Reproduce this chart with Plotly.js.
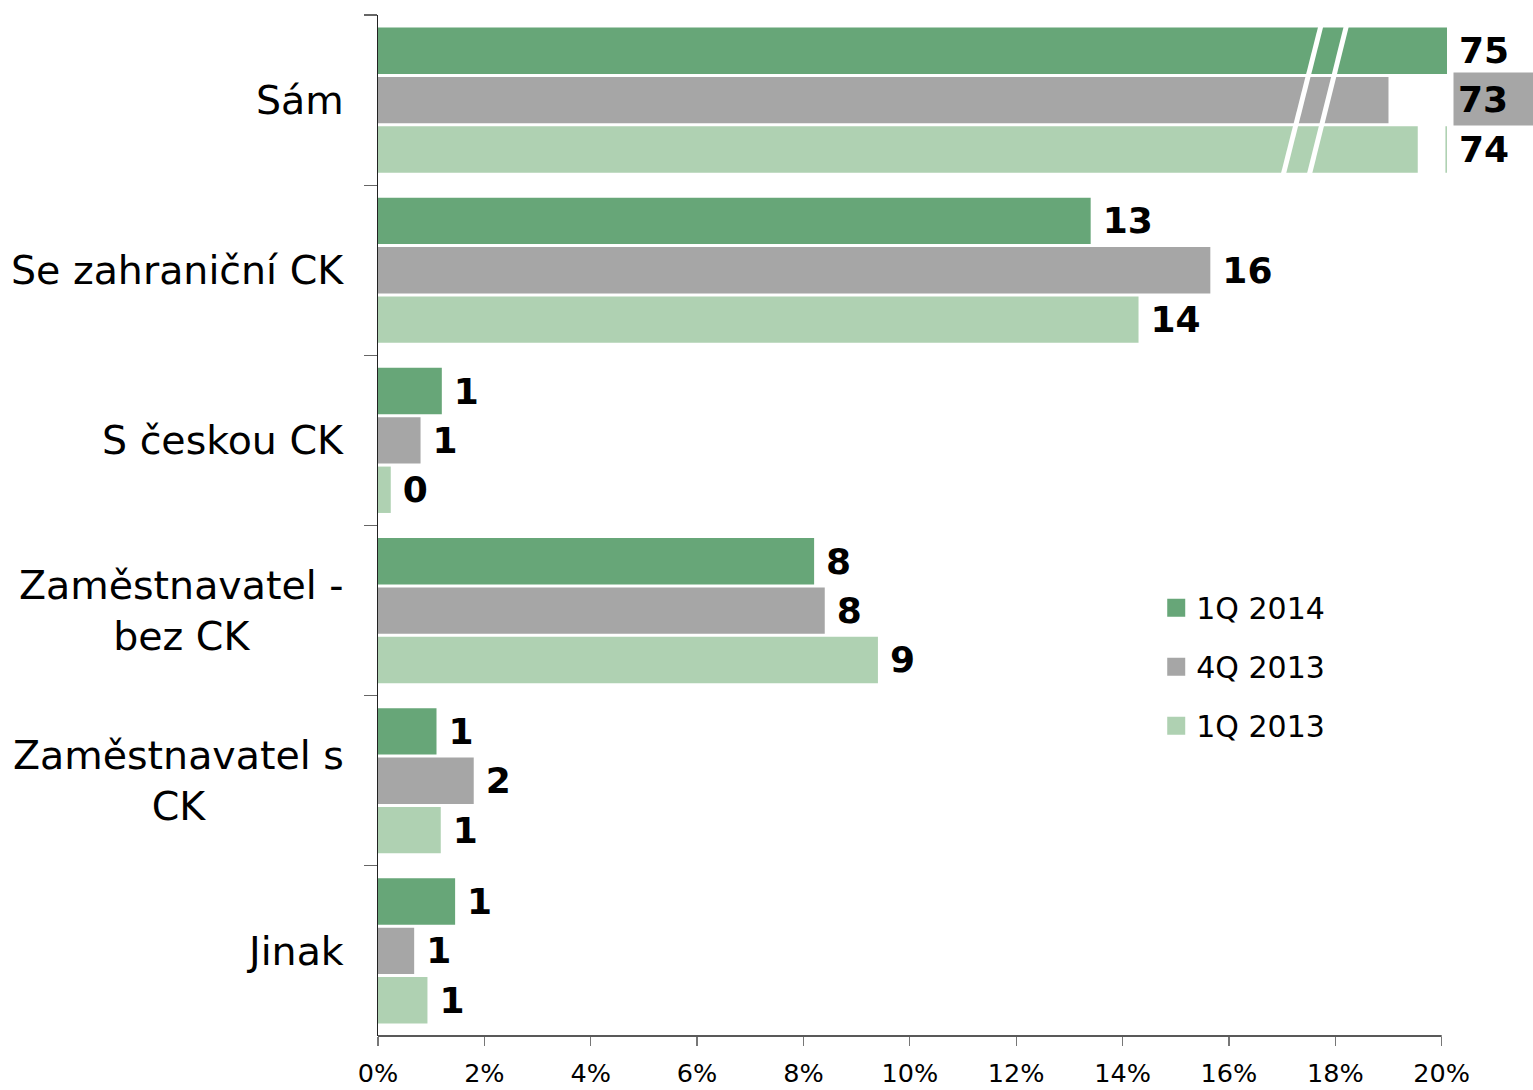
<!DOCTYPE html>
<html><head><meta charset="utf-8">
<script src="https://cdn.plot.ly/plotly-3.0.1.min.js"></script>
<style>html,body{margin:0;padding:0;background:#fff}#chart{width:1533px;height:1090px}</style>
</head><body><div id="chart"></div>
<script>
// ---- data ----
const categories = ['Sám', 'Se zahraniční CK', 'S českou CK', 'Zaměstnavatel - bez CK', 'Zaměstnavatel s CK', 'Jinak'];
const categoryLabels = ['Sám', 'Se zahraniční CK', 'S českou CK', 'Zaměstnavatel -<br>bez CK', 'Zaměstnavatel s<br>CK', 'Jinak'];
const seriesNames = ['1Q 2014', '4Q 2013', '1Q 2013'];
const values1Q2014 = [75, 13.4, 1.2, 8.2, 1.1, 1.45];
const values4Q2013 = [73, 15.65, 0.8, 8.4, 1.8, 0.68];
const values1Q2013 = [74, 14.3, 0.24, 9.4, 1.18, 0.93];
const xTickVals = [0, 2, 4, 6, 8, 10, 12, 14, 16, 18, 20];
const xTickText = ['0%', '2%', '4%', '6%', '8%', '10%', '12%', '14%', '16%', '18%', '20%'];

// ---- styling ----
const colors = ['#67A678', '#A6A6A6', '#AFD1B2'];
const FONT = 'DejaVu Sans, Verdana, sans-serif';
const AXIS_BREAK = 20.1;   // broken-bar cut (axis end)

const seriesValues = [values1Q2014, values4Q2013, values1Q2013];
const GAP = '\u2005';

const traces = [];
seriesValues.forEach((vals, s) => {
  traces.push({
    type: 'bar', orientation: 'h',
    name: seriesNames[s],
    y: categories,
    x: vals.map(v => Math.min(v, AXIS_BREAK)),
    text: vals.map(v => (s === 1 && v > AXIS_BREAK) ? '' : GAP + Math.round(v)),
    textposition: 'outside',
    constraintext: 'none',
    cliponaxis: false,
    textfont: {family: FONT, size: 36, color: '#000', weight: 'bold'},
    marker: {color: colors[s], line: {width: 0}},
    showlegend: false,
    hoverinfo: 'skip'
  });
});
// legend entries
seriesNames.forEach((n, s) => {
  traces.push({
    type: 'scatter', mode: 'markers', x: [null], y: [null], name: n,
    legendgroup: 'g' + s,
    marker: {symbol: 'square', size: 16, color: colors[s], line: {color: colors[s], width: 2}},
    hoverinfo: 'skip'
  });
});

const shapes = [];
// x axis line (to 20%)
shapes.push({type: 'line', xref: 'x', yref: 'paper', x0: 0, x1: 20, y0: 0, y1: 0, line: {color: '#222', width: 1.3}});
// white covers & break marks for the broken "Sám" bars
shapes.push({type: 'rect', xref: 'x', yref: 'y', x0: 19.0, x1: 20.3, y0: -0.15, y1: 0.148, fillcolor: '#fff', line: {width: 0}, layer: 'above'});
shapes.push({type: 'rect', xref: 'x', yref: 'y', x0: 19.55, x1: 20.07, y0: 0.148, y1: 0.46, fillcolor: '#fff', line: {width: 0}, layer: 'above'});
shapes.push({type: 'line', xref: 'x', yref: 'y', x0: 17.74, y0: -0.45, x1: 17.02, y1: 0.44, line: {color: '#fff', width: 5}, layer: 'above'});
shapes.push({type: 'line', xref: 'x', yref: 'y', x0: 18.22, y0: -0.45, x1: 17.51, y1: 0.44, line: {color: '#fff', width: 5}, layer: 'above'});

const annotations = [];
categories.forEach((c, i) => {
  annotations.push({
    xref: 'paper', yref: 'y', x: 0, y: c, xanchor: 'right', yanchor: 'middle',
    xshift: -32, align: 'center', showarrow: false,
    text: categoryLabels[i], font: {family: FONT, size: 39.5, color: '#000'}
  });
});
// boxed label of the broken 4Q 2013 bar
values4Q2013.forEach((v, i) => {
  if (v > AXIS_BREAK) {
    annotations.push({
      xref: 'paper', yref: 'y', x: 1, y: categories[i], xanchor: 'left', yanchor: 'middle',
      xshift: 6, yshift: 1, showarrow: false, align: 'left', width: 72, height: 44, borderpad: 4,
      bgcolor: colors[1], text: String(Math.round(v)),
      font: {family: FONT, size: 36, color: '#000', weight: 'bold'}
    });
  }
});

const layout = {
  width: 1533, height: 1090,
  margin: {l: 378, r: 86, t: 15, b: 54},
  paper_bgcolor: '#fff', plot_bgcolor: '#fff',
  barmode: 'group', bargap: 0.13, bargroupgap: 0.06,
  font: {family: FONT, color: '#000'},
  xaxis: {
    range: [0, AXIS_BREAK], tickvals: xTickVals, ticktext: xTickText,
    ticks: 'outside', ticklen: 9, tickcolor: '#777', tickwidth: 1.3,
    ticklabelstandoff: 5,
    showgrid: false, zeroline: false, showline: false,
    tickfont: {family: FONT, size: 25.5, color: '#000'}, fixedrange: true
  },
  yaxis: {
    type: 'category', categoryorder: 'array', categoryarray: categories,
    autorange: 'reversed', tickson: 'boundaries',
    ticks: 'outside', ticklen: 13, tickcolor: '#666', tickwidth: 1.3,
    showticklabels: false, showgrid: false, zeroline: false,
    showline: true, linecolor: '#222', linewidth: 1.3, fixedrange: true
  },
  legend: {
    x: 0.728, y: 0.445, xanchor: 'left', yanchor: 'top',
    traceorder: 'grouped', tracegroupgap: 17,
    font: {family: FONT, size: 30, color: '#000'}, bgcolor: 'rgba(0,0,0,0)',
    itemsizing: 'trace'
  },
  shapes: shapes,
  annotations: annotations,
  showlegend: true
};

Plotly.newPlot('chart', traces, layout, {displayModeBar: false, staticPlot: true});
</script>
</body></html>
